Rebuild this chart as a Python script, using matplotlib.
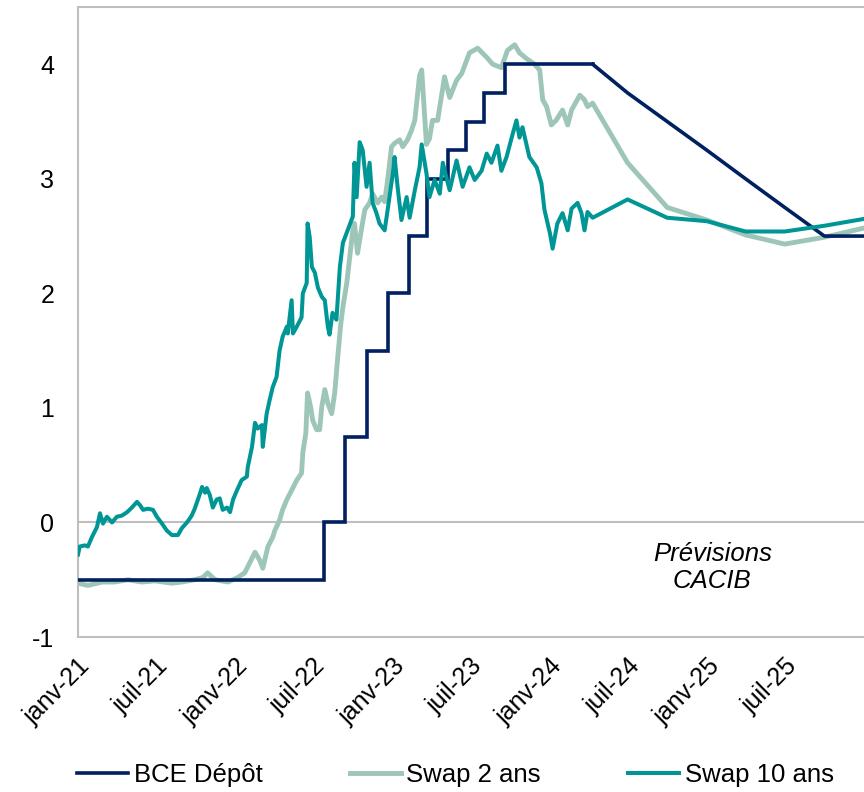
import pandas as pd
import matplotlib.pyplot as plt
import matplotlib.dates as mdates

plt.rcParams['font.family'] = ['Liberation Sans', 'DejaVu Sans']

# Taux de dépôt BCE (historique, en escalier)
bce_dates = ['2021-01-01', '2022-07-27', '2022-09-14', '2022-11-02', '2022-12-21',
             '2023-02-08', '2023-03-22', '2023-05-10', '2023-06-21', '2023-08-02',
             '2023-09-20', '2024-04-10']
bce_vals = [-0.5, 0.0, 0.75, 1.5, 2.0, 2.5, 3.0, 3.25, 3.5, 3.75, 4.0, 4.0]

# Prévisions trimestrielles
prev_dates = ['2024-04-10', '2024-06-30', '2024-09-30', '2024-12-31',
              '2025-03-31', '2025-06-30', '2025-09-30', '2025-12-31']
bce_prev = [4.0, 3.75, 3.5, 3.25, 3.0, 2.75, 2.5, 2.5]
swap2_prev = [3.66, 3.14, 2.75, 2.64, 2.51, 2.43, 2.49, 2.57]
swap10_prev = [2.66, 2.82, 2.66, 2.63, 2.54, 2.54, 2.59, 2.65]

# Swap 2 ans (historique)
swap2_dates = ['2021-01-01', '2021-01-24', '2021-02-26', '2021-03-27', '2021-04-27',
               '2021-05-29', '2021-06-28', '2021-08-07', '2021-08-30', '2021-09-29',
               '2021-10-18', '2021-10-29', '2021-11-15', '2021-12-15', '2022-01-07',
               '2022-01-23', '2022-02-04', '2022-02-16', '2022-02-27', '2022-03-06',
               '2022-03-18', '2022-03-29', '2022-04-03', '2022-04-14', '2022-04-21',
               '2022-05-01', '2022-05-12', '2022-05-24', '2022-06-04', '2022-06-07',
               '2022-06-14', '2022-06-18', '2022-06-25', '2022-06-30', '2022-07-09',
               '2022-07-16', '2022-07-21', '2022-07-28', '2022-08-04', '2022-08-13',
               '2022-08-20', '2022-08-27', '2022-09-03', '2022-09-08', '2022-09-17',
               '2022-09-24', '2022-10-01', '2022-10-05', '2022-10-12', '2022-10-22',
               '2022-10-29', '2022-11-09', '2022-11-16', '2022-11-28', '2022-12-07',
               '2022-12-14', '2022-12-21', '2022-12-30', '2023-01-06', '2023-01-18',
               '2023-01-25', '2023-02-05', '2023-02-14', '2023-02-22', '2023-03-05',
               '2023-03-10', '2023-03-21', '2023-03-28', '2023-04-04', '2023-04-16',
               '2023-05-02', '2023-05-14', '2023-05-30', '2023-06-11', '2023-06-29',
               '2023-07-18', '2023-08-08', '2023-08-22', '2023-09-11', '2023-09-25',
               '2023-10-12', '2023-10-23', '2023-11-08', '2023-11-27', '2023-12-09',
               '2023-12-16', '2023-12-25', '2024-01-05', '2024-01-16', '2024-01-31',
               '2024-02-12', '2024-02-21', '2024-03-11', '2024-03-22', '2024-03-29']
swap2_vals = [-0.53, -0.55, -0.52, -0.52, -0.50,
              -0.52, -0.51, -0.53, -0.52, -0.50,
              -0.48, -0.44, -0.50, -0.52, -0.48,
              -0.44, -0.35, -0.26, -0.33, -0.40,
              -0.21, -0.13, -0.07, 0.02, 0.11,
              0.20, 0.28, 0.37, 0.43, 0.61,
              0.78, 1.13, 1.01, 0.89, 0.81,
              0.81, 1.01, 1.16, 1.04, 0.95,
              1.13, 1.44, 1.73, 1.88, 2.09,
              2.32, 2.55, 2.61, 2.35, 2.58,
              2.73, 2.79, 2.87, 2.79, 2.84,
              2.80, 2.99, 3.28, 3.31, 3.34,
              3.28, 3.34, 3.42, 3.51, 3.90,
              3.95, 3.30, 3.35, 3.51, 3.51,
              3.89, 3.71, 3.86, 3.92, 4.10,
              4.14, 4.06, 4.00, 3.97, 4.12,
              4.17, 4.10, 4.05, 4.00, 3.95,
              3.69, 3.63, 3.47, 3.51, 3.60,
              3.47, 3.60, 3.73, 3.69, 3.63]

# Swap 10 ans (historique)
swap10_dates = ['2021-01-01', '2021-01-05', '2021-01-17', '2021-01-24', '2021-02-02',
                '2021-02-14', '2021-02-21', '2021-02-28', '2021-03-09', '2021-03-21',
                '2021-04-01', '2021-04-13', '2021-04-25', '2021-05-06', '2021-05-18',
                '2021-05-25', '2021-06-01', '2021-06-12', '2021-06-24', '2021-07-03',
                '2021-07-15', '2021-07-26', '2021-08-07', '2021-08-21', '2021-08-30',
                '2021-09-11', '2021-09-22', '2021-09-29', '2021-10-11', '2021-10-16',
                '2021-10-23', '2021-10-27', '2021-11-03', '2021-11-10', '2021-11-19',
                '2021-11-26', '2021-12-03', '2021-12-13', '2021-12-20', '2021-12-27',
                '2022-01-05', '2022-01-16', '2022-01-28', '2022-01-30', '2022-02-09',
                '2022-02-16', '2022-02-22', '2022-03-04', '2022-03-06', '2022-03-15',
                '2022-03-22', '2022-03-29', '2022-04-07', '2022-04-14', '2022-04-21',
                '2022-05-01', '2022-05-03', '2022-05-12', '2022-05-15', '2022-05-24',
                '2022-06-04', '2022-06-07', '2022-06-16', '2022-06-18', '2022-06-23',
                '2022-06-28', '2022-07-05', '2022-07-12', '2022-07-21', '2022-07-28',
                '2022-08-04', '2022-08-08', '2022-08-15', '2022-08-24', '2022-09-01',
                '2022-09-08', '2022-09-19', '2022-10-01', '2022-10-05', '2022-10-10',
                '2022-10-17', '2022-10-24', '2022-11-02', '2022-11-09', '2022-11-16',
                '2022-11-25', '2022-12-02', '2022-12-14', '2022-12-21', '2023-01-02',
                '2023-01-06', '2023-01-13', '2023-01-22', '2023-02-03', '2023-02-10',
                '2023-02-22', '2023-03-05', '2023-03-10', '2023-03-21', '2023-03-28',
                '2023-04-09', '2023-04-21', '2023-04-28', '2023-05-07', '2023-05-14',
                '2023-05-30', '2023-06-13', '2023-06-29', '2023-07-11', '2023-07-27',
                '2023-08-08', '2023-08-19', '2023-09-02', '2023-09-11', '2023-09-23',
                '2023-10-05', '2023-10-16', '2023-10-23', '2023-10-30', '2023-11-15',
                '2023-12-02', '2023-12-13', '2023-12-20', '2024-01-02', '2024-01-08',
                '2024-01-19', '2024-01-31', '2024-02-12', '2024-02-21', '2024-03-06',
                '2024-03-15', '2024-03-22', '2024-03-29']
swap10_vals = [-0.28, -0.21, -0.20, -0.21, -0.13,
               -0.04, 0.08, -0.01, 0.05, 0.00,
               0.05, 0.06, 0.09, 0.13, 0.18,
               0.15, 0.11, 0.12, 0.11, 0.05,
               -0.01, -0.07, -0.11, -0.11, -0.05,
               0.00, 0.06, 0.12, 0.25, 0.31,
               0.26, 0.30, 0.24, 0.13, 0.20,
               0.21, 0.11, 0.13, 0.09, 0.20,
               0.28, 0.37, 0.40, 0.48, 0.66,
               0.87, 0.82, 0.85, 0.66, 0.95,
               1.07, 1.18, 1.27, 1.50, 1.62,
               1.71, 1.65, 1.94, 1.65, 1.71,
               1.79, 2.00, 2.09, 2.61, 2.49,
               2.23, 2.18, 2.05, 1.97, 1.94,
               1.71, 1.64, 1.83, 1.77, 2.23,
               2.44, 2.55, 2.67, 3.14, 2.84,
               3.32, 3.25, 2.93, 3.14, 2.79,
               2.70, 2.61, 2.55, 2.73, 3.05,
               3.19, 2.93, 2.64, 2.84, 2.66,
               2.90, 3.10, 3.30, 3.05, 2.84,
               2.99, 2.87, 3.14, 3.00, 2.90,
               3.16, 2.93, 3.10, 2.99, 3.07,
               3.22, 3.14, 3.29, 3.07, 3.19,
               3.36, 3.51, 3.36, 3.45, 3.19,
               3.10, 2.96, 2.73, 2.52, 2.39,
               2.61, 2.70, 2.55, 2.74, 2.79,
               2.70, 2.55, 2.71]

tick_dates = ['2021-01-01', '2021-07-01', '2022-01-01', '2022-07-01', '2023-01-01',
              '2023-07-01', '2024-01-01', '2024-07-01', '2025-01-01', '2025-07-01']
tick_labels = ['janv-21', 'juil-21', 'janv-22', 'juil-22', 'janv-23',
               'juil-23', 'janv-24', 'juil-24', 'janv-25', 'juil-25']

navy = '#002060'
light = '#9dc6b9'
teal = '#009696'
grey = '#bfbfbf'

fig = plt.figure(figsize=(8.64, 7.92), dpi=100)
ax = fig.add_axes([0.0903, 0.1957, 0.9097, 0.7955])

# historique + prévisions, une ligne par série
d_bce = pd.to_datetime(bce_dates)
d_prev = pd.to_datetime(prev_dates)
d2 = pd.to_datetime(swap2_dates + prev_dates)
d10 = pd.to_datetime(swap10_dates + prev_dates)

ax.axhline(0, color=grey, lw=1.5, zorder=1)
ax.plot(d_bce, bce_vals, drawstyle='steps-post', color=navy, lw=2.6,
        solid_joinstyle='miter', zorder=3)
ax.plot(d_prev, bce_prev, color=navy, lw=2.6, zorder=3, label='BCE Dépôt')
ax.plot(d2, swap2_vals + swap2_prev, color=light, lw=3.5, zorder=2,
        label='Swap 2 ans')
ax.plot(d10, swap10_vals + swap10_prev, color=teal, lw=2.9, zorder=4,
        label='Swap 10 ans')

ax.set_xlim(pd.Timestamp('2021-01-01'), pd.Timestamp('2025-12-31'))
ax.set_ylim(-1, 4.5)
ax.set_yticks([-1, 0, 1, 2, 3, 4])
ax.set_yticklabels(['-1', '0', '1', '2', '3', '4'])
ax.set_xticks(mdates.date2num(pd.to_datetime(tick_dates)))
ax.set_xticklabels(tick_labels, rotation=45, ha='right', rotation_mode='anchor')

ax.tick_params(axis='y', length=0, pad=17, labelsize=18)
ax.tick_params(axis='x', length=0, pad=12, labelsize=18)

for side in ['left', 'top', 'bottom']:
    ax.spines[side].set_color(grey)
    ax.spines[side].set_linewidth(1.5)
ax.spines['right'].set_visible(False)

ax.text(0.807, 0.11, 'Prévisions\nCACIB', transform=ax.transAxes,
        ha='center', va='center', fontsize=18.5, style='italic',
        linespacing=1.15)

handles, labels = ax.get_legend_handles_labels()
fig.legend(handles, labels, loc='center', bbox_to_anchor=(0.527, 0.022),
           ncol=3, frameon=False, fontsize=18.5, handlelength=2.0,
           handletextpad=0.2, columnspacing=3.4)

fig.savefig('out.png', dpi=100)
